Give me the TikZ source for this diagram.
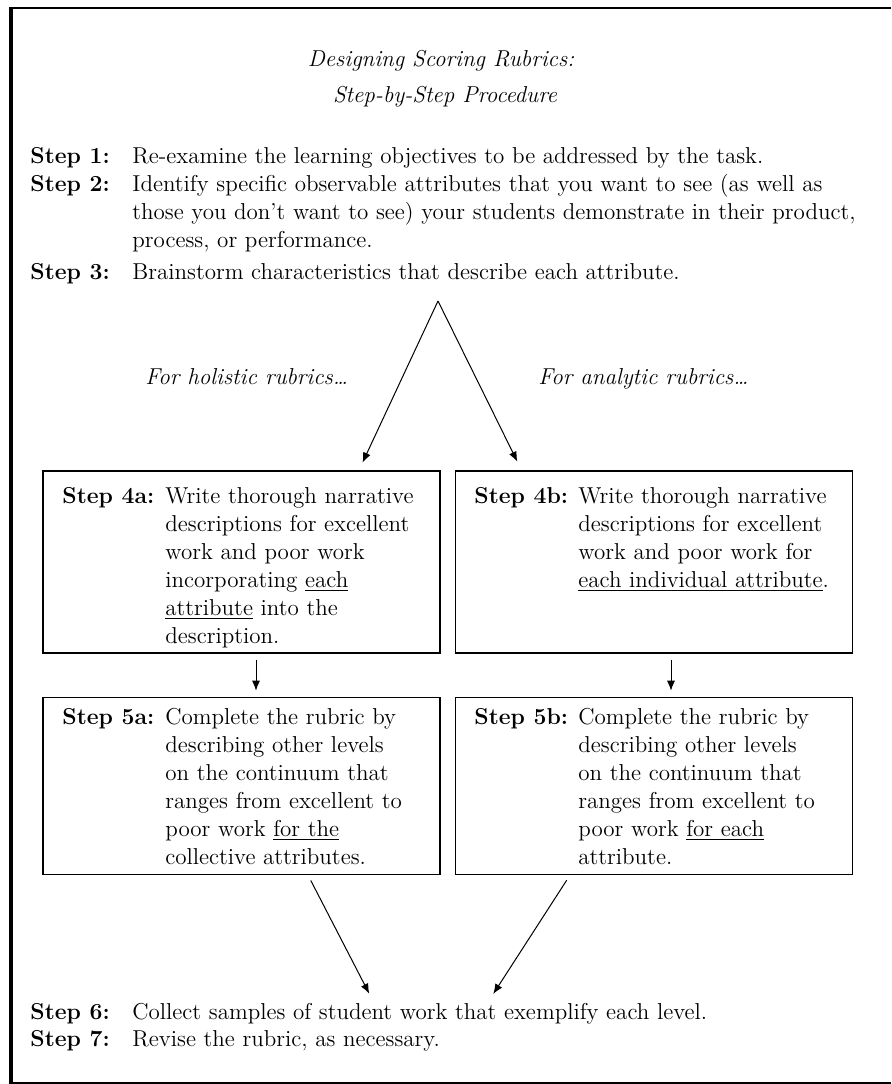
\documentclass[tikz,border=0pt]{standalone}
\usepackage{tikz}
\usetikzlibrary{arrows.meta,positioning}
\newcommand{\rubricfont}{\fontsize{11.5}{14}\selectfont}
\newlength{\fullline}
\setlength{\fullline}{375.5pt}
\tikzset{
    steplabel/.style={anchor=base west, inner sep=0pt, font=\rubricfont\bfseries},
    steptext/.style={anchor=base west, inner sep=0pt, font=\rubricfont, text width=#1, align=left},
    steptext/.default=140pt,
    heading/.style={anchor=base, inner sep=0pt, font=\rubricfont\itshape},
    branch/.style={anchor=base west, inner sep=0pt, font=\rubricfont\itshape},
    stepbox/.style={rectangle, draw=black, line width=0.7pt, inner sep=0pt, minimum width=198.5pt, minimum height=#1},
    pil/.style={-{Latex[length=5pt,width=4pt]}, line width=0.5pt, shorten <=3pt, shorten >=3pt}
}

\begin{document}
\begin{tikzpicture}[x=0.5pt, y=-0.5pt]
    \useasboundingbox (0,0) rectangle (891,1084);
    \draw[line width=2pt] (11,8) -- (11,1083);
    \draw[line width=0.8pt] (9,8) -- (891,8);
    \draw[line width=0.8pt] (9,1083) -- (891,1083);

    \node[heading] (title) at (441,66) {Designing Scoring Rubrics:};
    \node[heading] (subtitle) at (445,102) {Step-by-Step Procedure};

    \node[steplabel] (s1) at (30,163) {Step 1:};
    \node[steptext=\fullline] (t1) at (132,163)
      {Re-examine the learning objectives to be addressed by the task.};
    \node[steplabel] (s2) at (30,191) {Step 2:};
    \node[steptext=\fullline] (t2) at (132,191)
      {\makebox[\fullline][s]{Identify specific observable attributes that you want to see (as well as}\\
      \makebox[\fullline][s]{those you don't want to see) your students demonstrate in their product,}\\
      process, or performance.};
    \node[steplabel] (s3) at (30,279) {Step 3:};
    \node[steptext=\fullline] (t3) at (132,279)
      {Brainstorm characteristics that describe each attribute.};

    \coordinate (fork) at (438,301);
    \node[branch] (holistic) at (145,384) {For holistic rubrics\dots};
    \node[branch] (analytic) at (538,384) {For analytic rubrics\dots};

    \node[stepbox=91pt] (box4a) at (241.5,562) {};
    \node[stepbox=91pt, right=7pt of box4a] (box4b) {};
    \node[stepbox=88.5pt, below=21.5pt of box4a] (box5a) {};
    \node[stepbox=88.5pt, below=21.5pt of box4b] (box5b) {};

    \node[steplabel] (s4a) at (62,503) {Step 4a:};
    \node[steptext] (t4a) at (165,503)
      {Write thorough narrative\\
      descriptions for excellent\\
      work and poor work\\
      incorporating \underline{each}\\
      \underline{attribute} into the\\
      description.};
    \node[steplabel] (s4b) at (474,503) {Step 4b:};
    \node[steptext] (t4b) at (578,503)
      {Write thorough narrative\\
      descriptions for excellent\\
      work and poor work for\\
      \underline{each individual attribute}.};

    \node[steplabel] (s5a) at (62,724) {Step 5a:};
    \node[steptext] (t5a) at (165,724)
      {Complete the rubric by\\
      describing other levels\\
      on the continuum that\\
      ranges from excellent to\\
      poor work \underline{for the}\\
      collective attributes.};
    \node[steplabel] (s5b) at (474,724) {Step 5b:};
    \node[steptext] (t5b) at (578,724)
      {Complete the rubric by\\
      describing other levels\\
      on the continuum that\\
      ranges from excellent to\\
      poor work \underline{for each}\\
      attribute.};

    \node[steplabel] (s6) at (30,1019) {Step 6:};
    \node[steptext=\fullline] (t6) at (132,1019)
      {Collect samples of student work that exemplify each level.};
    \node[steplabel] (s7) at (30,1046) {Step 7:};
    \node[steptext=\fullline] (t7) at (132,1046)
      {Revise the rubric, as necessary.};

    \coordinate (in4a) at (360,468);
    \coordinate (in4b) at (520,467);
    \coordinate (in6a) at (372,999);
    \coordinate (in6b) at (490,999);
    \draw[pil, shorten <=0pt] (fork) -- (in4a);
    \draw[pil, shorten <=0pt] (fork) -- (in4b);
    \draw[pil] (256,0 |- box4a.south) -- (256,0 |- box5a.north);
    \draw[pil] (671,0 |- box4b.south) -- (671,0 |- box5b.north);
    \draw[pil] (308,0 |- box5a.south) -- (in6a);
    \draw[pil] (570,0 |- box5b.south) -- (in6b);
\end{tikzpicture}
\end{document}
